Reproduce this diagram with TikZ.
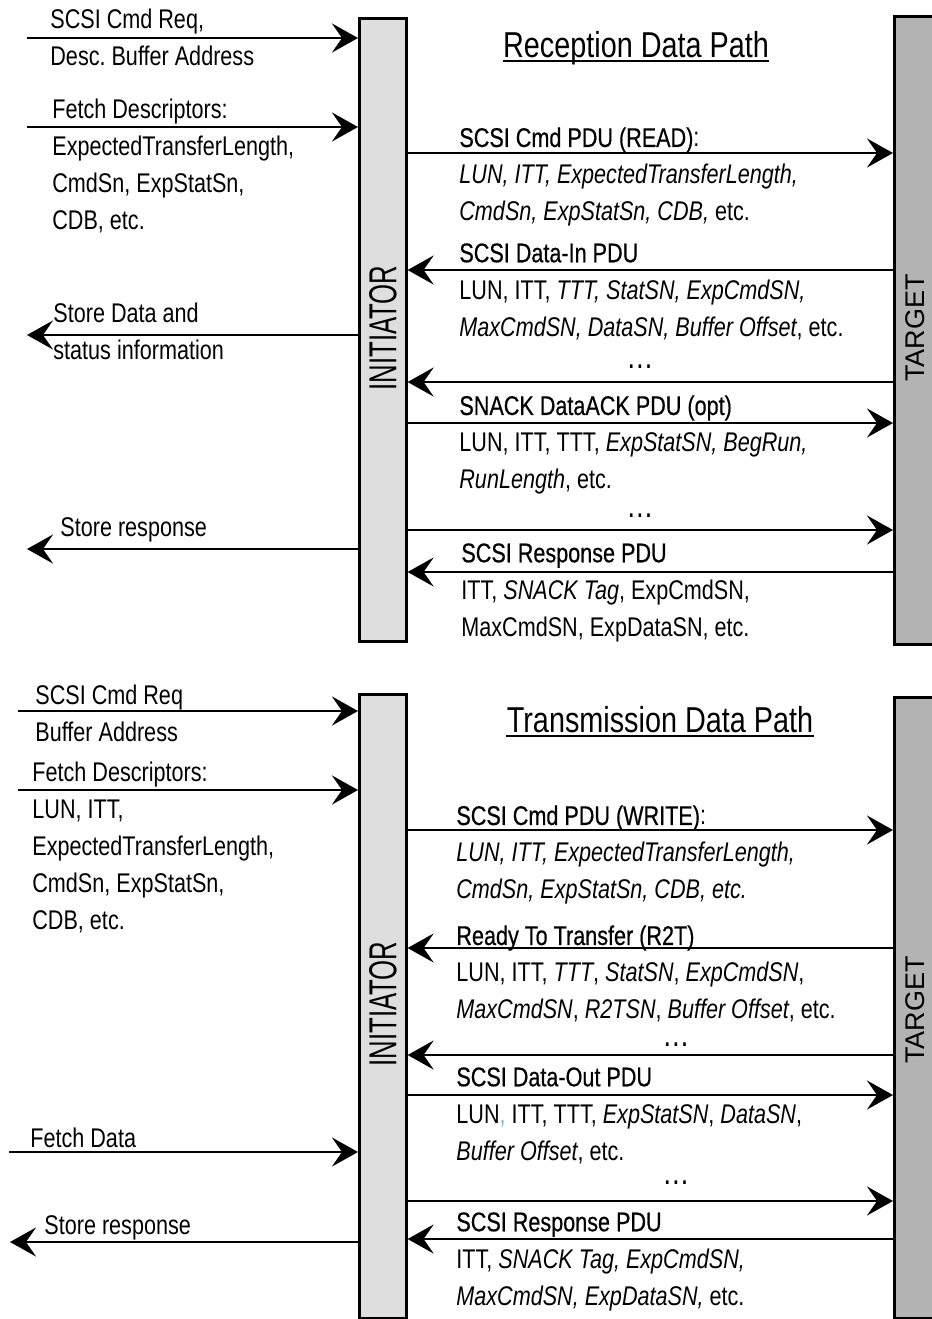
\documentclass[tikz,border=0pt]{standalone}
\usepackage{fontspec}
\setmainfont{Liberation Sans}[FakeStretch=0.8]
\newfontfamily\hdfont{Liberation Sans}[FakeStretch=0.8,FakeBold=0.5]
\newfontfamily\inifont{Liberation Sans}[FakeStretch=0.66]
\newfontfamily\tgtfont{Liberation Sans}
\usetikzlibrary{arrows.meta, positioning}
\definecolor{inifill}{HTML}{DEDEDE}
\definecolor{tgtfill}{HTML}{B3B3B3}
\definecolor{commablue}{HTML}{7FB3DA}
\newcommand{\hd}[1]{{\hdfont #1}}
\tikzset{
  font=\fontsize{13.5}{18.5}\selectfont,
  >={Stealth[length=13pt, width=14.5pt, inset=5pt]},
  %
  inibar/.style={draw, line width=1.3pt, fill=inifill, anchor=north west,
                 inner sep=0pt, minimum width=23.5pt},
  tgtbar/.style={inibar, fill=tgtfill, minimum width=30pt},
  inilabel/.style={rotate=90, font=\inifont\fontsize{19.5}{22}\selectfont, inner sep=0pt},
  tgtlabel/.style={rotate=90, font=\tgtfont\fontsize{13.5}{16}\selectfont, inner sep=0pt},
  title/.style={anchor=base, inner sep=0pt, font=\fontsize{18}{22}\selectfont},
  %
  txt/.style={anchor=north west, inner sep=0pt, align=left},
  dots/.style={inner sep=0pt, text height=2pt, text depth=0pt,
               font=\fontsize{17}{17}\selectfont},
  msg/.style={draw, line width=1.3pt, ->},
  uline/.style={draw, line width=1.2pt},
}
\begin{document}
\begin{tikzpicture}[x=0.5pt, y=-0.5pt]
  \clip (0,0) rectangle (932,1319);

  % ---------- reception ----------
  \node[inibar, minimum height=311.5pt] (ini1) at (358,17) {};
  \node[tgtbar, minimum height=314pt]   (tgt1) at (893,15) {};
  \node[inilabel] (iniL1) at (383,328) {INITIATOR};
  \node[tgtlabel] (tgtL1) at (915,328) {TARGET};

  \node[title] (ttl1) at (636,57) {Reception Data Path};
  \draw[uline] ([yshift=-2pt]ttl1.base west) -- ([yshift=-2pt]ttl1.base east);

  % host side
  \coordinate (srcA) at (27,38);
  \coordinate (srcB) at (27,127);
  \coordinate (dstC) at (27,335);
  \coordinate (dstD) at (27,549);
  \draw[msg] (srcA) -- (srcA -| ini1.west);
  \draw[msg] (srcB) -- (srcB -| ini1.west);
  \draw[msg] (dstC -| ini1.west) -- (dstC);
  \draw[msg] (dstD -| ini1.west) -- (dstD);
  \node[txt] (lblA) at (50,9) {SCSI Cmd Req,\\Desc.\ Buffer Address};
  \node[txt] (lblB) at (52,99)
    {Fetch Descriptors:\\ExpectedTransferLength,\\CmdSn, ExpStatSn,\\CDB, etc.};
  \node[txt] (lblC) at (53,303) {Store Data and\\status information};
  \node[txt] (lblD) at (60,517) {Store response};

  % wire side
  \node[txt] (pdu1) at (459,127)
    {\hd{SCSI Cmd PDU (READ)}:\\
     \textit{LUN, ITT, ExpectedTransferLength,}\\
     \textit{CmdSn, ExpStatSn, CDB,} etc.};
  \draw[msg] (ini1.east |- 0,153) -- (tgt1.west |- 0,153);

  \node[txt] (pdu2) at (459,243)
    {\hd{SCSI Data-In PDU}\\
     LUN, ITT, \textit{TTT, StatSN, ExpCmdSN,}\\
     \textit{MaxCmdSN, DataSN, Buffer Offset}, etc.};
  \draw[msg] (tgt1.west |- 0,270) -- (ini1.east |- 0,270);

  \node[dots] (dot1) at (640,366) {\ldots};
  \draw[msg] (tgt1.west |- 0,382) -- (ini1.east |- 0,382);

  \node[txt] (pdu3) at (459,395)
    {\hd{SNACK DataACK PDU (opt)}\\
     LUN, ITT, TTT, \textit{ExpStatSN, BegRun,}\\
     \textit{RunLength}, etc.};
  \draw[msg] (ini1.east |- 0,423) -- (tgt1.west |- 0,423);

  \node[dots] (dot2) at (640,515) {\ldots};
  \draw[msg] (ini1.east |- 0,530) -- (tgt1.west |- 0,530);

  \node[txt] (pdu4) at (461,543)
    {\hd{SCSI Response PDU}\\
     ITT, \textit{SNACK Tag}, ExpCmdSN,\\
     MaxCmdSN, ExpDataSN, etc.};
  \draw[msg] (tgt1.west |- 0,572) -- (ini1.east |- 0,572);

  % ---------- transmission ----------
  \node[inibar, minimum height=312pt]   (ini2) at (358,693) {};
  \node[tgtbar, minimum height=310.5pt] (tgt2) at (893,696) {};
  \node[inilabel] (iniL2) at (383,1004) {INITIATOR};
  \node[tgtlabel] (tgtL2) at (915,1010) {TARGET};

  \node[title] (ttl2) at (660,732) {Transmission Data Path};
  \draw[uline] ([yshift=-2pt]ttl2.base west) -- ([yshift=-2pt]ttl2.base east);

  % host side
  \coordinate (srcE) at (18,711);
  \coordinate (srcF) at (18,790);
  \coordinate (srcG) at (9,1152);
  \coordinate (dstH) at (10,1242);
  \draw[msg] (srcE) -- (srcE -| ini2.west);
  \draw[msg] (srcF) -- (srcF -| ini2.west);
  \draw[msg] (srcG) -- (srcG -| ini2.west);
  \draw[msg] (dstH -| ini2.west) -- (dstH);
  \node[txt] (lblE) at (35,685) {SCSI Cmd Req\\Buffer Address};
  \node[txt] (lblF) at (32,762)
    {Fetch Descriptors:\\LUN, ITT,\\ExpectedTransferLength,\\CmdSn, ExpStatSn,\\CDB, etc.};
  \node[txt] (lblG) at (30,1128) {Fetch Data};
  \node[txt] (lblH) at (44,1215) {Store response};

  % wire side
  \node[txt] (pdu5) at (456,805)
    {\hd{SCSI Cmd PDU (WRITE)}:\\
     \textit{LUN, ITT, ExpectedTransferLength,}\\
     \textit{CmdSn, ExpStatSn, CDB, etc.}};
  \draw[msg] (ini2.east |- 0,830) -- (tgt2.west |- 0,830);

  \node[txt] (pdu6) at (456,925)
    {\hd{Ready To Transfer (R2T)}\\
     LUN, ITT, \textit{TTT}, \textit{StatSN}, \textit{ExpCmdSN},\\
     \textit{MaxCmdSN}, \textit{R2TSN}, \textit{Buffer Offset}, etc.};
  \draw[msg] (tgt2.west |- 0,948) -- (ini2.east |- 0,948);

  \node[dots] (dot3) at (676,1044) {\ldots};
  \draw[msg] (tgt2.west |- 0,1055) -- (ini2.east |- 0,1055);

  \node[txt] (pdu7) at (456,1067)
    {\hd{SCSI Data-Out PDU}\\
     LUN{\color{commablue},} ITT, TTT, \textit{ExpStatSN}, \textit{DataSN},\\
     \textit{Buffer Offset}, etc.};
  \draw[msg] (ini2.east |- 0,1095) -- (tgt2.west |- 0,1095);

  \node[dots] (dot4) at (676,1182) {\ldots};
  \draw[msg] (ini2.east |- 0,1201) -- (tgt2.west |- 0,1201);

  \node[txt] (pdu8) at (456,1212)
    {\hd{SCSI Response PDU}\\
     ITT, \textit{SNACK Tag, ExpCmdSN,}\\
     \textit{MaxCmdSN, ExpDataSN,} etc.};
  \draw[msg] (tgt2.west |- 0,1239) -- (ini2.east |- 0,1239);

\end{tikzpicture}
\end{document}
